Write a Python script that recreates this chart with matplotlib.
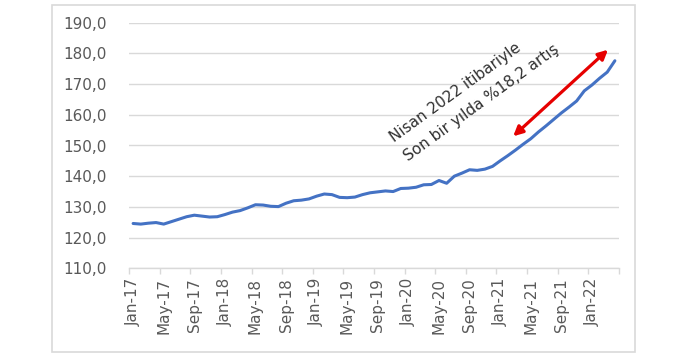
import matplotlib
matplotlib.use("Agg")
import matplotlib.pyplot as plt
from matplotlib.patches import Rectangle
from matplotlib.ticker import FixedLocator, FuncFormatter

# ---- data ----
years = ["17", "18", "19", "20", "21", "22"]
months = ["Jan", "Feb", "Mar", "Apr", "May", "Jun", "Jul", "Aug", "Sep", "Oct", "Nov", "Dec"]
categories = [f"{m}-{y}" for y in years for m in months][:64]  # Jan-17 .. Apr-22

values = [
    124.6, 124.4, 124.7, 124.9, 124.4, 125.2, 126.0, 126.8, 127.3, 127.0, 126.7, 126.8,  # 2017
    127.5, 128.3, 128.8, 129.7, 130.7, 130.6, 130.2, 130.1, 131.2, 132.0, 132.2, 132.6,  # 2018
    133.5, 134.2, 134.0, 133.1, 133.0, 133.2, 134.0, 134.6, 134.9, 135.2, 135.0, 136.0,  # 2019
    136.1, 136.4, 137.2, 137.3, 138.6, 137.7, 140.0, 141.0, 142.1, 141.9, 142.3, 143.2,  # 2020
    145.0, 146.7, 148.5, 150.4, 152.2, 154.4, 156.4, 158.5, 160.6, 162.5, 164.5, 167.8,  # 2021
    169.7, 171.9, 173.9, 177.6,                                                          # 2022
]

yticks = [110, 120, 130, 140, 150, 160, 170, 180, 190]
annotation_text = "Nisan 2022 itibariyle\nSon bir yılda %18,2 artış"

# ---- figure ----
plt.rcParams["font.family"] = ["DejaVu Sans"]
fig = plt.figure(figsize=(6.9, 3.56), dpi=100)
fig.patch.set_facecolor("white")

# chart border
fig.add_artist(Rectangle((51.5 / 690, 4.5 / 356), 583 / 690, 347 / 356,
                         transform=fig.transFigure, fill=False,
                         edgecolor="#d9d9d9", linewidth=1.2, zorder=10))

ax = fig.add_axes([129.3 / 690, 1 - 268.3 / 356, (618.7 - 129.3) / 690, (268.3 - 22.7) / 356])

x = list(range(len(values)))
ax.plot(x, values, color="#4472C4", linewidth=2.2, solid_capstyle="round",
        solid_joinstyle="round", zorder=3)

ax.set_xlim(-0.5, len(values) - 0.5)
ax.set_ylim(yticks[0], yticks[-1])

# y axis
ax.set_yticks(yticks)
ax.yaxis.set_major_formatter(FuncFormatter(lambda v, p: f"{v:.1f}".replace(".", ",")))
ax.tick_params(axis="y", length=0, pad=16, labelsize=11, labelcolor="#595959")
ax.grid(axis="y", color="#d9d9d9", linewidth=1.0, zorder=0)

# x axis
label_pos = list(range(0, len(values), 4))
ax.xaxis.set_major_locator(FixedLocator(label_pos))
ax.set_xticklabels([categories[i] for i in label_pos], rotation=90)
ax.xaxis.set_minor_locator(FixedLocator([p - 0.5 for p in range(0, len(values) + 1, 4)]))
ax.tick_params(axis="x", which="major", length=0, pad=7, labelsize=11, labelcolor="#595959")
ax.tick_params(axis="x", which="minor", length=4, width=1, color="#d9d9d9", direction="out")
for lab in ax.get_xticklabels():
    lab.set_verticalalignment("top")

for s in ["top", "right", "left"]:
    ax.spines[s].set_visible(False)
ax.spines["bottom"].set_color("#d9d9d9")
ax.spines["bottom"].set_linewidth(1.0)
ax.set_facecolor("white")

# annotation
ax.text(44.6, 167.0, annotation_text, rotation=36, rotation_mode="anchor",
        ha="center", va="center", multialignment="left",
        fontsize=11, color="#303030", linespacing=1.75, zorder=4)

ax.annotate("", xy=(62.1, 181.2), xytext=(49.7, 153.0),
            arrowprops=dict(arrowstyle="<|-|>", color="#e60000", lw=2.3,
                            mutation_scale=14, shrinkA=0, shrinkB=0),
            zorder=4)

fig.savefig("out.png", dpi=100, facecolor="white")
